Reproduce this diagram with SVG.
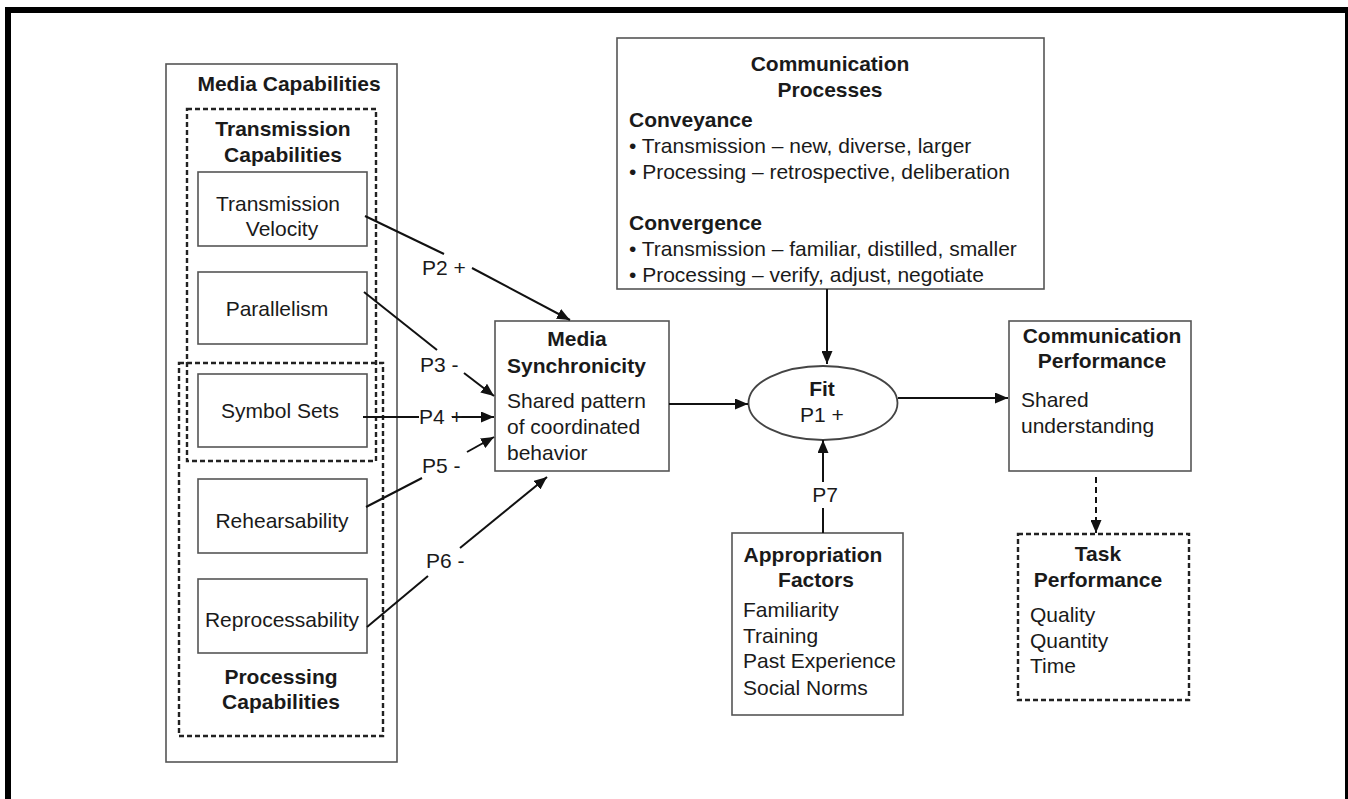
<svg xmlns="http://www.w3.org/2000/svg" width="1348" height="799" viewBox="0 0 1348 799">
<style>
text{font-family:"Liberation Sans",Arial,sans-serif;font-size:21px;fill:#1a1a1a}
.b{font-weight:bold}
.m{text-anchor:middle}
.box{fill:none;stroke:#555;stroke-width:1.6}
.dbox{fill:none;stroke:#222;stroke-width:2.4;stroke-dasharray:5 3}
.ln{stroke:#111;stroke-width:2;fill:none}
.arr{marker-end:url(#ah)}
</style>
<defs>
<marker id="ah" markerUnits="userSpaceOnUse" markerWidth="13" markerHeight="11" refX="13" refY="5.5" orient="auto">
<path d="M0,0 L13,5.5 L0,11 z" fill="#111"/>
</marker>
</defs>
<rect width="1348" height="799" fill="#fff"/>
<g id="frame" fill="#000">
<rect x="5" y="7" width="6" height="792"/>
<rect x="5" y="7" width="1343" height="6"/>
<rect x="1345" y="7" width="3" height="792"/>
</g>

<g id="media-capabilities">
<rect class="box" x="166" y="64" width="231" height="698"/>
<text class="b m" x="289" y="91">Media Capabilities</text>
</g>
<g id="transmission-capabilities">
<rect class="dbox" x="187" y="109" width="189" height="352"/>
<text class="b m" x="283" y="136">Transmission</text>
<text class="b m" x="283" y="162">Capabilities</text>
</g>
<g id="processing-capabilities">
<rect class="dbox" x="179" y="363" width="204" height="373"/>
<text class="b m" x="281" y="684">Processing</text>
<text class="b m" x="281" y="709">Capabilities</text>
</g>
<g id="transmission-velocity">
<rect class="box" x="198" y="172" width="169" height="74"/>
<text class="m" x="278" y="211">Transmission</text>
<text class="m" x="282" y="236">Velocity</text>
</g>
<g id="parallelism">
<rect class="box" x="198" y="272" width="169" height="72"/>
<text class="m" x="277" y="316">Parallelism</text>
</g>
<g id="symbol-sets">
<rect class="box" x="198" y="374" width="169" height="73"/>
<text class="m" x="280" y="418">Symbol Sets</text>
</g>
<g id="rehearsability">
<rect class="box" x="198" y="479" width="169" height="74"/>
<text class="m" x="282" y="528">Rehearsability</text>
</g>
<g id="reprocessability">
<rect class="box" x="198" y="579" width="169" height="74"/>
<text class="m" x="282" y="627">Reprocessability</text>
</g>

<g id="media-synchronicity">
<rect class="box" x="495" y="321" width="174" height="150"/>
<text class="b m" x="577" y="346">Media</text>
<text class="b" x="507" y="373">Synchronicity</text>
<text x="507" y="408">Shared pattern</text>
<text x="507" y="434">of coordinated</text>
<text x="507" y="460">behavior</text>
</g>

<g id="communication-processes">
<rect class="box" x="617" y="38" width="427" height="251"/>
<text class="b m" x="830" y="71">Communication</text>
<text class="b m" x="830" y="97">Processes</text>
<text class="b" x="629" y="127">Conveyance</text>
<text x="629" y="153">• Transmission – new, diverse, larger</text>
<text x="629" y="179">• Processing – retrospective, deliberation</text>
<text class="b" x="629" y="230">Convergence</text>
<text x="629" y="256">• Transmission – familiar, distilled, smaller</text>
<text x="629" y="282">• Processing – verify, adjust, negotiate</text>
</g>

<g id="fit">
<ellipse cx="823" cy="403" rx="74.5" ry="37" fill="none" stroke="#444" stroke-width="1.8"/>
<text class="b m" x="822" y="396">Fit</text>
<text class="m" x="822" y="422">P1 +</text>
</g>

<g id="communication-performance">
<rect class="box" x="1009" y="321" width="182" height="150"/>
<text class="b m" x="1102" y="343">Communication</text>
<text class="b m" x="1102" y="368">Performance</text>
<text x="1021" y="407">Shared</text>
<text x="1021" y="433">understanding</text>
</g>

<g id="task-performance">
<rect class="dbox" x="1018" y="534" width="171" height="166"/>
<text class="b m" x="1098" y="561">Task</text>
<text class="b m" x="1098" y="587">Performance</text>
<text x="1030" y="622">Quality</text>
<text x="1030" y="648">Quantity</text>
<text x="1030" y="673">Time</text>
</g>

<g id="appropriation-factors">
<rect class="box" x="732" y="533" width="171" height="182"/>
<text class="b m" x="813" y="562">Appropriation</text>
<text class="b m" x="816" y="587">Factors</text>
<text x="743" y="617">Familiarity</text>
<text x="743" y="643">Training</text>
<text x="743" y="668">Past Experience</text>
<text x="743" y="695">Social Norms</text>
</g>

<g id="connectors">
<line class="ln" x1="365" y1="216" x2="444" y2="254"/>
<line class="ln arr" x1="472" y1="268" x2="570" y2="320"/>
<text x="422" y="275">P2 +</text>
<line class="ln" x1="364" y1="292" x2="437" y2="350"/>
<line class="ln arr" x1="464" y1="373" x2="494" y2="396"/>
<text x="420" y="372">P3 -</text>
<line class="ln" x1="363" y1="417" x2="419" y2="417"/>
<line class="ln arr" x1="452" y1="417" x2="494" y2="417"/>
<text x="419" y="424">P4 +</text>
<line class="ln" x1="366" y1="507" x2="422" y2="478"/>
<line class="ln arr" x1="467" y1="452" x2="494" y2="437"/>
<text x="422" y="473">P5 -</text>
<line class="ln" x1="367" y1="627" x2="428" y2="576"/>
<line class="ln arr" x1="460" y1="548" x2="547" y2="477"/>
<text x="426" y="568">P6 -</text>
<line class="ln arr" x1="669" y1="404" x2="748" y2="404"/>
<line class="ln arr" x1="827" y1="289" x2="827" y2="364"/>
<line class="ln arr" x1="898" y1="398" x2="1008" y2="398"/>
<line class="ln" x1="823" y1="533" x2="823" y2="508"/>
<line class="ln arr" x1="823" y1="482" x2="823" y2="440"/>
<text class="m" x="825" y="502">P7</text>
<line class="ln arr" x1="1096" y1="477" x2="1096" y2="533" stroke-dasharray="6 4"/>
</g>
</svg>
